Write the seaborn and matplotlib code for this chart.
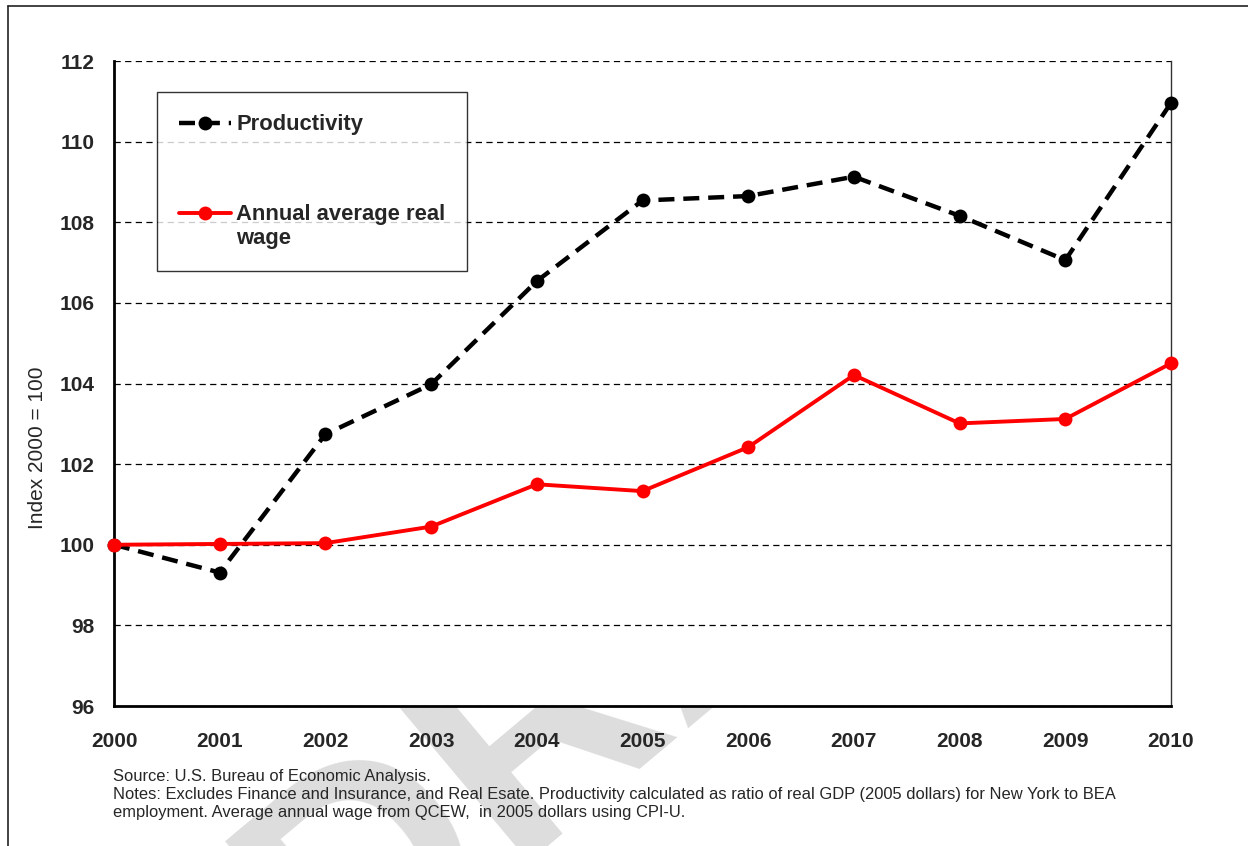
import numpy as np
import pandas as pd
import matplotlib
matplotlib.use("Agg")
import matplotlib.pyplot as plt
import matplotlib.transforms as mtransforms
import seaborn as sns
from matplotlib.lines import Line2D
from matplotlib.legend_handler import HandlerLine2D

# Data
years = [2000, 2001, 2002, 2003, 2004, 2005, 2006, 2007, 2008, 2009, 2010]
productivity = [100.0, 99.31, 102.74, 103.98, 106.54, 108.54, 108.65, 109.13, 108.16, 107.06, 110.96]
real_wage = [100.0, 100.02, 100.04, 100.45, 101.50, 101.33, 102.42, 104.21, 103.01, 103.12, 104.50]
y_ticks = [96, 98, 100, 102, 104, 106, 108, 110, 112]

prod_label = "Productivity"
wage_label = "Annual average real\nwage"
source_note = "Source: U.S. Bureau of Economic Analysis."
notes_1 = ("Notes: Excludes Finance and Insurance, and Real Esate. Productivity calculated as ratio of "
           "real GDP (2005 dollars) for New York to BEA")
notes_2 = "employment. Average annual wage from QCEW,  in 2005 dollars using CPI-U."

df = pd.DataFrame({"year": years, "prod": productivity, "wage": real_wage})


class FirstLineHandler(HandlerLine2D):
    """Put the legend handle next to the first line of a two-line label."""
    def create_artists(self, legend, orig_handle, xdescent, ydescent, width, height, fontsize, trans):
        artists = super().create_artists(legend, orig_handle, xdescent, ydescent,
                                         width, height, fontsize, trans)
        shift = mtransforms.ScaledTranslation(0, 0.62 * fontsize / 72, legend.figure.dpi_scale_trans)
        for a in artists:
            a.set_transform(a.get_transform() + shift)
        return artists


sns.set_style("white")
plt.rcParams["font.family"] = ["Liberation Sans", "DejaVu Sans"]

W, H = 1248, 846
fig = plt.figure(figsize=(W / 100, H / 100), dpi=100)
ax = fig.add_axes([114 / W, 1 - 706 / H, (1171 - 114) / W, (706 - 61) / H])
ax.set_facecolor("white")

# watermark, drawn behind the (white) axes so only its lower part shows
fig.text(0.55, 0.28, "DRAFT", rotation=40, fontsize=220, fontweight="bold",
         color="#dddddd", ha="center", va="center", zorder=-1)

sns.lineplot(data=df, x="year", y="prod", ax=ax, color="black",
             marker="o", markersize=10, markeredgewidth=0, linewidth=3.2,
             clip_on=False, zorder=4)
prod_line = ax.lines[-1]
prod_line.set_dashes((3.6, 2.0))
sns.lineplot(data=df, x="year", y="wage", ax=ax, color="#ff0000",
             marker="o", markersize=10, markeredgewidth=0, linewidth=2.8,
             clip_on=False, zorder=5)
wage_line = ax.lines[-1]

ax.set_xlim(2000, 2010)
ax.set_ylim(96, 112)
ax.set_xticks(years)
ax.set_yticks(y_ticks)
ax.set_xticklabels([str(y) for y in years], fontsize=15, fontweight="bold")
ax.set_yticklabels([str(v) for v in y_ticks], fontsize=15, fontweight="bold")
ax.tick_params(axis="x", length=0, pad=19)
ax.tick_params(axis="y", length=0, pad=14)
ax.set_xlabel("")
ax.set_ylabel("Index 2000 = 100", fontsize=15)
ax.yaxis.set_label_coords(-0.063, 0.40)

# dashed horizontal gridlines, including the top edge at 112
ax.yaxis.grid(True, color="black", linewidth=0.9, linestyle=(0, (5, 3.5)))
ax.xaxis.grid(False)
ax.set_axisbelow(True)

for side in ["left", "bottom"]:
    ax.spines[side].set_color("black")
    ax.spines[side].set_linewidth(2.0)
ax.spines["right"].set_color("#333333")
ax.spines["right"].set_linewidth(1.0)
ax.spines["top"].set_visible(False)

leg = ax.legend([prod_line, wage_line], [prod_label, wage_label],
                handler_map={wage_line: FirstLineHandler()},
                loc="upper left", bbox_to_anchor=((157 - 114) / 1057, 1 - (92.5 - 61) / 645),
                borderaxespad=0, frameon=True, fancybox=False,
                prop={"weight": "bold", "size": 15.8},
                handlelength=2.35, handletextpad=0.25, labelspacing=3.12, borderpad=1.0)
leg.get_frame().set_edgecolor("black")
leg.get_frame().set_linewidth(1.0)

# source and notes
fig.text(113 / W, 1 - 776 / H, source_note, fontsize=11.9, va="center")
fig.text(113 / W, 1 - 794 / H, notes_1, fontsize=11.9, va="center")
fig.text(113 / W, 1 - 812 / H, notes_2, fontsize=11.9, va="center")

# outer frame (left and top edges visible)
fig.add_artist(Line2D([7.5 / W, 7.5 / W], [0, 1 - 6 / H], color="#222222", linewidth=1.2))
fig.add_artist(Line2D([7.5 / W, 1], [1 - 6 / H, 1 - 6 / H], color="#222222", linewidth=1.2))

fig.savefig("out.png", dpi=100)
